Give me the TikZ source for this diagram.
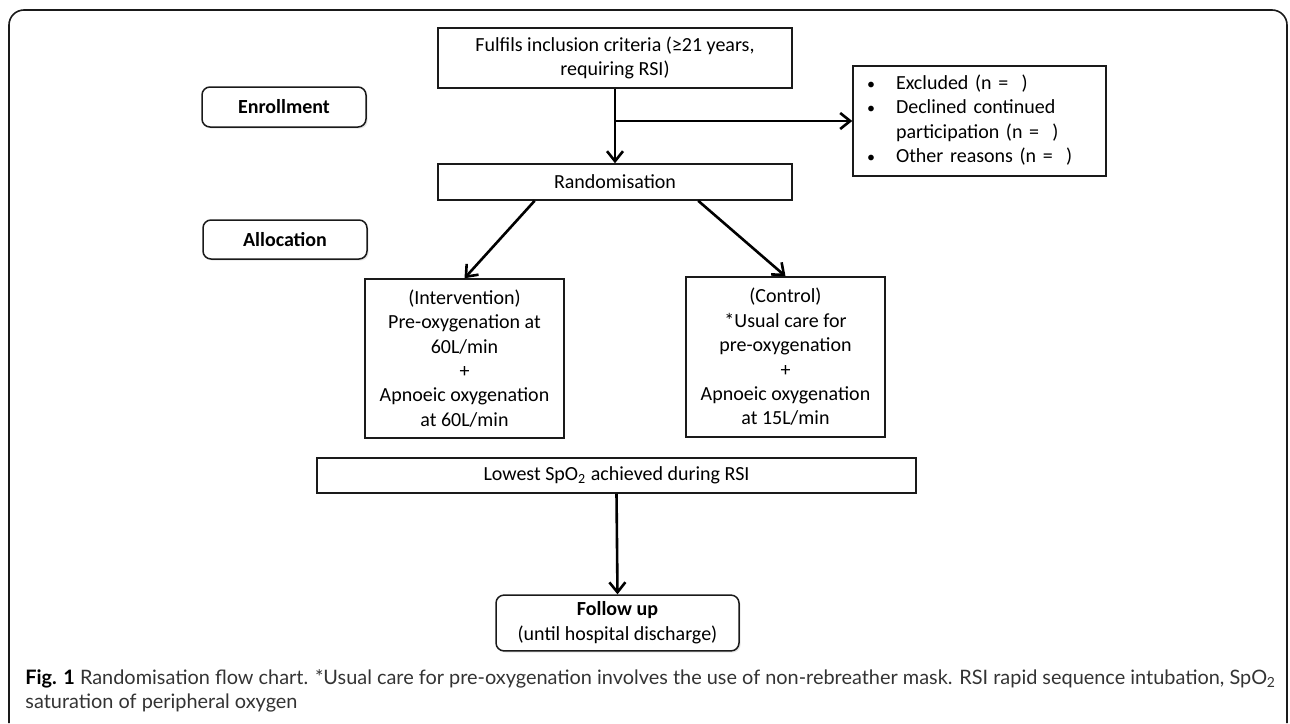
\documentclass[tikz,border=0pt]{standalone}
\usepackage{fontspec}
\setmainfont{Carlito}
\newfontfamily\captionFont{Lato}
\usepackage{xcolor}
\definecolor{lineDark}{HTML}{1A1A1A}
\definecolor{captionGrey}{HTML}{333333}
\usepackage{tikz}
\usetikzlibrary{positioning,calc,arrows.meta,shadows}
\tikzset{%
  flowBox/.style={%
    rectangle,
    draw=lineDark,
    line width=0.75pt,
    fill=white,
    align=center,
    inner sep=2pt,
    font=\fontsize{10}{12.2}\selectfont
  },
  stageBox/.style={%
    rectangle,
    rounded corners=4pt,
    draw=lineDark,
    line width=0.75pt,
    fill=white,
    drop shadow={shadow xshift=0.8pt, shadow yshift=-0.8pt, opacity=0.2},
    align=center,
    font=\fontsize{10}{12.5}\selectfont
  },
  arrowLine/.style={%
    -{Straight Barb[length=5pt,width=8pt]},
    line width=1.3pt,
    color=black
  },
  captionText/.style={%
    anchor=base west,
    inner sep=0pt,
    text=captionGrey,
    font=\captionFont\fontsize{9.95}{11}\selectfont
  }
}

\begin{document}
\begin{tikzpicture}[x=0.5pt, y=-0.5pt]
  \useasboundingbox (0,0) rectangle (1290,723);

  % outer frame, open at the bottom
  \draw[line width=0.8pt, color=lineDark, rounded corners=7.5pt]
    (9,723) -- (9,10) -- (1287,10) -- (1287,723);

  % stage labels on the left
  \node[stageBox, minimum width=82pt, minimum height=20pt] (enroll) at (284,107) {\textbf{Enrollment}};
  \node[stageBox, minimum width=82pt, minimum height=19.5pt] (alloc) at (285,239.5) {\textbf{Allocation}};

  % enrollment
  \node[flowBox, minimum width=177pt, minimum height=30pt] (fulfils) at (615,58) {%
    Fulfils inclusion criteria (≥21 years,\\
    requiring RSI)};
  \node[flowBox, minimum width=177pt, minimum height=18pt] (rand) at (615,182) {Randomisation};
  \node[flowBox, align=left, text width=112.5pt, inner xsep=7pt, minimum height=55pt] (excluded) at (979.5,121) {%
    \begin{tabular}{@{}p{14.5pt}@{}l@{}}
      {\footnotesize\textbullet} & Excluded (n = \ )\\
      {\footnotesize\textbullet} & Declined continued\\
                  & participation (n = \ )\\
      {\footnotesize\textbullet} & Other reasons (n = \ )
    \end{tabular}};

  \draw[arrowLine] (fulfils.south) -- (rand.north);
  \draw[arrowLine] (fulfils.south |- excluded.west) -- (excluded.west);

  % allocation
  \node[flowBox, minimum width=99.5pt, minimum height=79.5pt] (interv) at (464.5,358.5) {%
    (Intervention)\\
    Pre-oxygenation at\\
    60L/min\\
    +\\
    Apnoeic oxygenation\\
    at 60L/min};
  \node[flowBox, minimum width=99.5pt, minimum height=80pt] (control) at (785.5,357) {%
    (Control)\\
    *Usual care for\\
    pre-oxygenation\\
    +\\
    Apnoeic oxygenation\\
    at 15L/min};

  \draw[arrowLine] ($(rand.south west)!0.274!(rand.south east)$) -- (interv.north);
  \draw[arrowLine] ($(rand.south west)!0.734!(rand.south east)$) -- (control.north);

  % outcome and follow up
  \node[flowBox, minimum width=299.5pt, minimum height=17.5pt] (lowest) at (616.5,475.5) {Lowest SpO\textsubscript{2} achieved during RSI};
  \node[stageBox, minimum width=121.5pt, minimum height=26pt] (follow) at (617.5,623) {%
    \textbf{Follow up}\\
    (until hospital discharge)};

  \draw[arrowLine] (lowest.south) -- (follow.north);

  % caption
  \node[captionText] (capLine1) at (25,684) {\textcolor{black}{\textbf{Fig. 1}} Randomisation flow chart. *Usual care for pre-oxygenation involves the use of non-rebreather mask. RSI rapid sequence intubation, SpO\textsubscript{2}};
  \node[captionText] (capLine2) at (25,708) {saturation of peripheral oxygen};
\end{tikzpicture}
\end{document}
